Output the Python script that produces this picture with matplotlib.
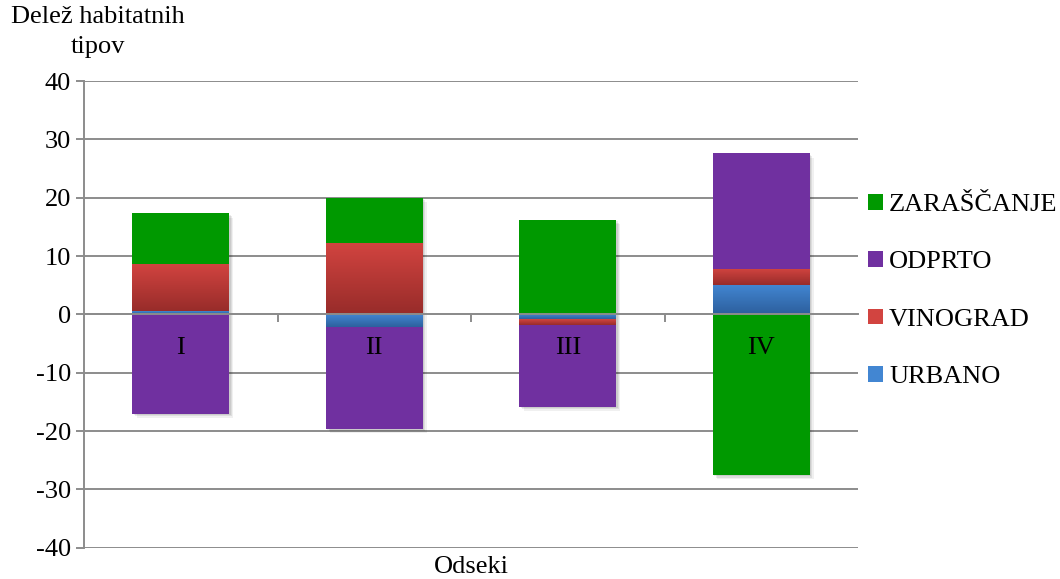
import numpy as np
import matplotlib
matplotlib.use("Agg")
import matplotlib.pyplot as plt
from matplotlib import patheffects as pe
from matplotlib.colors import LinearSegmentedColormap
from matplotlib.patches import Patch

plt.rcParams['font.family'] = ['Liberation Serif', 'DejaVu Serif']

# Data
categories = ['I', 'II', 'III', 'IV']
series_names = ['URBANO', 'VINOGRAD', 'ODPRTO', 'ZARAŠČANJE']
urbano = [0.5, -2.2, -0.8, 5.0]
vinograd = [8.1, 12.3, -1.0, 2.8]
odprto = [-17.0, -17.4, -14.0, 19.8]
zarascanje = [8.7, 7.7, 16.2, -27.5]
y_ticks = [-40, -30, -20, -10, 0, 10, 20, 30, 40]

series = [urbano, vinograd, odprto, zarascanje]
# (top colour, bottom colour) for each series; solid when equal
fills = [('#4286D2', '#2D609E'),
         ('#D24440', '#982C2A'),
         ('#7030A0', '#7030A0'),
         ('#009900', '#009900')]

FS = 19
fig = plt.figure(figsize=(10.6, 5.79), dpi=100)
ax = fig.add_axes([84 / 1060, 1 - 547.7 / 579, 774 / 1060, 466.7 / 579])

x = np.arange(len(categories))
width = 0.5
pos_base = np.zeros(len(categories))
neg_base = np.zeros(len(categories))

# soft drop shadow behind each whole stack
pos_tot = np.sum(np.clip(np.array(series), 0, None), axis=0)
neg_tot = np.sum(np.clip(np.array(series), None, 0), axis=0)
shadow = ax.bar(x, pos_tot - neg_tot, width, bottom=neg_tot, color='none',
                linewidth=0, zorder=2)
for p in shadow:
    p.set_path_effects([
        pe.SimplePatchShadow(offset=(3, -3), shadow_rgbFace='#000000', alpha=0.06),
        pe.SimplePatchShadow(offset=(2, -2), shadow_rgbFace='#000000', alpha=0.08),
        pe.SimplePatchShadow(offset=(1, -1), shadow_rgbFace='#000000', alpha=0.08),
    ])

for name, vals, (c_top, c_bot) in zip(series_names, series, fills):
    vals = np.array(vals, dtype=float)
    bottoms = np.where(vals >= 0, pos_base, neg_base)
    bars = ax.bar(x, vals, width, bottom=bottoms, color=c_top, linewidth=0,
                  zorder=3)
    if c_top != c_bot:
        cmap = LinearSegmentedColormap.from_list(name, [c_bot, c_top])
        grad = np.linspace(0, 1, 64).reshape(-1, 1)
        for b in bars:
            x0, y0 = b.get_x(), b.get_y()
            w, h = b.get_width(), b.get_height()
            lo, hi = min(y0, y0 + h), max(y0, y0 + h)
            im = ax.imshow(grad, cmap=cmap, origin='lower', aspect='auto',
                           extent=[x0, x0 + w, lo, hi], zorder=3.5,
                           interpolation='bilinear')
            im.set_clip_path(b)
    pos_base = pos_base + np.where(vals > 0, vals, 0)
    neg_base = neg_base + np.where(vals < 0, vals, 0)

ax.set_xlim(-0.5, len(categories) - 0.5)
ax.set_ylim(-40, 40)
ax.set_yticks(y_ticks)
ax.set_yticklabels([str(v) for v in y_ticks], fontsize=FS)
ax.grid(axis='y', color='#8C8C8C', linewidth=1.4, zorder=0)
ax.set_axisbelow(True)

ax.tick_params(axis='y', direction='out', length=5.5, width=1.4,
               color='#8C8C8C', pad=4)
for s in ['top', 'right']:
    ax.spines[s].set_visible(False)
ax.spines['left'].set_color('#8C8C8C')
ax.spines['left'].set_linewidth(1.4)
# zero axis line drawn across the bars
ax.spines['bottom'].set_position(('data', 0))
ax.spines['bottom'].set_color('#8C8C8C')
ax.spines['bottom'].set_linewidth(1.4)
ax.spines['bottom'].set_zorder(4)

# category labels below the zero axis, boundary ticks on it
ax.set_xticks(x)
ax.set_xticklabels(categories, fontsize=FS)
ax.tick_params(axis='x', which='major', length=0, pad=16)
ax.set_xticks(np.arange(0.5, len(categories) - 1, 1), minor=True)
ax.tick_params(axis='x', which='minor', direction='out', length=5.5,
               width=1.4, color='#8C8C8C')
ax.xaxis.set_zorder(5)

fig.text(97.5 / 1060, 1 - 6 / 579, 'Delež habitatnih\ntipov', ha='center',
         va='top', fontsize=FS, multialignment='center', linespacing=1.5)
fig.text(471 / 1060, 1 - 567 / 579, 'Odseki', ha='center', va='center',
         fontsize=FS)

legend_handles = [Patch(facecolor=c_top, edgecolor='none')
                  for c_top, c_bot in fills]
fig.legend(legend_handles[::-1], series_names[::-1], loc='center left',
           bbox_to_anchor=(868 / 1060, 1 - 291 / 579), frameon=False,
           fontsize=FS, handlelength=0.55, handleheight=0.55,
           handletextpad=0.25, labelspacing=1.33, borderpad=0,
           borderaxespad=0)

fig.savefig('out.png', dpi=100)
